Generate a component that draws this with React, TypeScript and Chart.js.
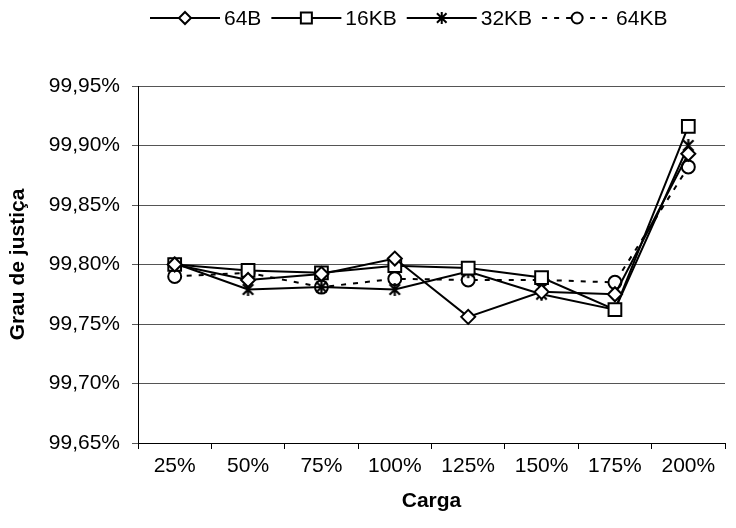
import React, { useEffect, useRef } from 'react';
import { Chart, registerables } from 'chart.js';

Chart.register(...registerables);

const categories = ['25%', '50%', '75%', '100%', '125%', '150%', '175%', '200%'];
const seriesNames = ['64B', '16KB', '32KB', '64KB'];
const values64B = [99.8, 99.787, 99.792, 99.805, 99.756, 99.777, 99.775, 99.893];
const values16KB = [99.8, 99.795, 99.793, 99.799, 99.797, 99.789, 99.762, 99.916];
const values32KB = [99.801, 99.779, 99.781, 99.779, 99.794, 99.775, 99.762, 99.9];
const values64KB = [99.79, 99.793, 99.781, 99.788, 99.787, 99.787, 99.785, 99.882];
const yTicks = [99.65, 99.7, 99.75, 99.8, 99.85, 99.9, 99.95];

const FONT = "'Liberation Sans', Arial, sans-serif";

function makeStar(size: number, lw: number): HTMLCanvasElement {
  const c = document.createElement('canvas');
  c.width = size;
  c.height = size;
  const ctx = c.getContext('2d')!;
  ctx.strokeStyle = '#000';
  ctx.lineWidth = lw;
  const m = size / 2;
  const r = size / 2 - 1;
  const d = r * 0.8;
  ctx.beginPath();
  ctx.moveTo(m, m - r);
  ctx.lineTo(m, m + r);
  ctx.moveTo(m - d, m - d);
  ctx.lineTo(m + d, m + d);
  ctx.moveTo(m - d, m + d);
  ctx.lineTo(m + d, m - d);
  ctx.stroke();
  return c;
}

function drawMarker(ctx: CanvasRenderingContext2D, kind: string, x: number, y: number) {
  ctx.save();
  ctx.fillStyle = '#fff';
  ctx.strokeStyle = '#000';
  ctx.lineWidth = 2;
  ctx.setLineDash([]);
  ctx.beginPath();
  if (kind === 'diamond') {
    const r = 6;
    ctx.moveTo(x, y - r);
    ctx.lineTo(x + r, y);
    ctx.lineTo(x, y + r);
    ctx.lineTo(x - r, y);
    ctx.closePath();
    ctx.fill();
    ctx.stroke();
  } else if (kind === 'square') {
    const h = 5.5;
    ctx.rect(x - h, y - h, 2 * h, 2 * h);
    ctx.fill();
    ctx.stroke();
  } else if (kind === 'circle') {
    ctx.arc(x, y, 5.5, 0, Math.PI * 2);
    ctx.fill();
    ctx.stroke();
  } else {
    const r = 6;
    const d = r * 0.8;
    ctx.lineWidth = 2;
    ctx.moveTo(x, y - r);
    ctx.lineTo(x, y + r);
    ctx.moveTo(x - d, y - d);
    ctx.lineTo(x + d, y + d);
    ctx.moveTo(x - d, y + d);
    ctx.lineTo(x + d, y - d);
    ctx.stroke();
  }
  ctx.restore();
}

const legendKinds = ['diamond', 'square', 'star', 'circle'];
const legendDashed = [false, false, false, true];

const legendPlugin = {
  id: 'customLegend',
  afterDraw(chart: any) {
    const ctx: CanvasRenderingContext2D = chart.ctx;
    ctx.save();
    ctx.font = `21px ${FONT}`;
    ctx.textBaseline = 'middle';
    ctx.fillStyle = '#000';
    let x = 150;
    const y = 18;
    const lineLen = 70;
    seriesNames.forEach((name, i) => {
      ctx.save();
      ctx.strokeStyle = '#000';
      ctx.lineWidth = 2;
      ctx.setLineDash(legendDashed[i] ? [5, 7] : []);
      ctx.beginPath();
      ctx.moveTo(x, y);
      ctx.lineTo(x + lineLen, y);
      ctx.stroke();
      ctx.restore();
      drawMarker(ctx, legendKinds[i], x + lineLen / 2, y);
      const tx = x + lineLen + 4;
      ctx.fillText(name, tx, y + 1);
      x = tx + ctx.measureText(name).width + 10;
    });
    ctx.restore();
  },
};

export default function App() {
  const ref = useRef<HTMLCanvasElement | null>(null);

  useEffect(() => {
    if (!ref.current) return;
    const star = makeStar(15, 2.2);
    const common = {
      borderColor: '#000',
      borderWidth: 2,
      pointBackgroundColor: '#fff',
      pointBorderColor: '#000',
      pointBorderWidth: 2,
      tension: 0,
      fill: false,
    };
    const chart = new Chart(ref.current, {
      type: 'line',
      data: {
        labels: categories,
        datasets: [
          { ...common, label: seriesNames[0], data: values64B, pointStyle: 'rectRot', pointRadius: 7 },
          { ...common, label: seriesNames[1], data: values16KB, pointStyle: 'rect', pointRadius: 9 },
          { ...common, label: seriesNames[2], data: values32KB, pointStyle: star as any, pointRadius: 7 },
          { ...common, label: seriesNames[3], data: values64KB, pointStyle: 'circle', pointRadius: 6.5, borderDash: [5, 7] },
        ],
      },
      options: {
        animation: false,
        responsive: true,
        maintainAspectRatio: false,
        layout: { padding: { top: 86, right: 8, left: 0, bottom: 0 } },
        plugins: {
          legend: { display: false },
          tooltip: { enabled: false },
        },
        scales: {
          x: {
            offset: true,
            grid: {
              offset: true,
              drawOnChartArea: false,
              drawTicks: true,
              tickLength: 6,
              color: '#000',
            },
            border: { color: '#000', width: 1 },
            ticks: {
              color: '#000',
              font: { family: FONT, size: 21 },
              padding: 5,
              maxRotation: 0,
            },
            title: {
              display: true,
              text: 'Carga',
              color: '#000',
              font: { family: FONT, size: 21, weight: 'bold' },
              padding: { top: 0, bottom: 14 },
            },
            afterFit: (s: any) => {
              s.height = 85;
            },
          },
          y: {
            min: 99.65,
            max: 99.95,
            afterBuildTicks: (s: any) => {
              s.ticks = yTicks.map((v) => ({ value: v }));
            },
            grid: {
              color: '#555',
              lineWidth: 1,
              tickLength: 6,
            },
            border: { color: '#000', width: 1 },
            ticks: {
              color: '#000',
              font: { family: FONT, size: 21 },
              padding: 12,
              callback: (v: any) => Number(v).toFixed(2).replace('.', ',') + '%',
            },
            title: {
              display: true,
              text: 'Grau de justiça',
              color: '#000',
              font: { family: FONT, size: 21, weight: 'bold' },
              padding: { top: 6, bottom: 0 },
            },
            afterFit: (s: any) => {
              s.width = 138;
            },
          },
        },
      },
      plugins: [legendPlugin],
    });
    return () => chart.destroy();
  }, []);

  return (
    <div style={{ position: 'fixed', left: 0, top: 0, width: 736, height: 528, background: '#fff' }}>
      <canvas ref={ref} />
    </div>
  );
}
